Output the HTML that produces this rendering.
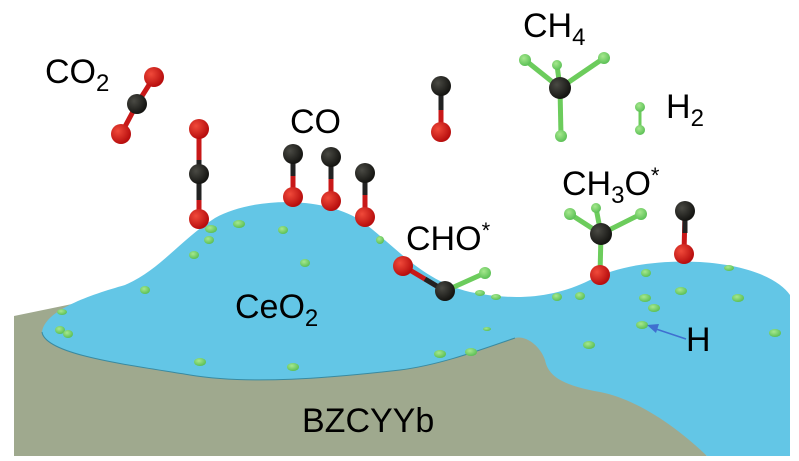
<!DOCTYPE html>
<html><head><meta charset="utf-8"><style>
html,body{margin:0;padding:0;background:#fff;width:799px;height:461px;overflow:hidden}
svg text{font-family:"Liberation Sans",sans-serif;fill:#000}
</style></head><body>
<svg width="799" height="461" viewBox="0 0 799 461" xmlns="http://www.w3.org/2000/svg">
<defs>
<radialGradient id="r" cx="35%" cy="35%" r="65%"><stop offset="0" stop-color="#f04a3a"/><stop offset="1" stop-color="#b80e0e"/></radialGradient>
<radialGradient id="k" cx="35%" cy="35%" r="65%"><stop offset="0" stop-color="#4a4a44"/><stop offset="1" stop-color="#151512"/></radialGradient>
<radialGradient id="g" cx="40%" cy="35%" r="65%"><stop offset="0" stop-color="#a6e88e"/><stop offset="1" stop-color="#5cc056"/></radialGradient>
</defs>
<!-- substrate -->
<path d="M14,316 L140,290 L520,300 L600,330 L660,400 L707,456 L14,456 Z" fill="#9fa98e"/>
<!-- ceria -->
<path d="M42,332 C45,310 90,295 125,285 C160,270 180,240 215,218 C250,198 320,195 360,220 C395,245 420,280 470,292 C510,300 550,300 590,280 C620,265 660,260 700,262 C750,265 780,280 790,295 L790,456 L707,456 C680,430 640,400 600,392 C560,385 548,375 545,360 C540,345 525,335 515,338 C480,350 440,365 400,370 C330,378 250,385 190,375 C130,365 45,355 42,332 Z" fill="#63c6e6"/>
<path d="M515,338 C480,350 440,365 400,370 C330,378 250,385 190,375 C130,365 45,355 42,332" fill="none" stroke="#3a8aa0" stroke-width="1"/>
<!-- green dots on surface -->
<g fill="url(#g)">
<ellipse cx="239" cy="224" rx="6" ry="4"/><ellipse cx="211" cy="229" rx="6" ry="4"/><ellipse cx="209" cy="240" rx="5" ry="4"/><ellipse cx="194" cy="255" rx="5" ry="4"/><ellipse cx="283" cy="230" rx="5" ry="4"/><ellipse cx="305" cy="263" rx="5" ry="4"/><ellipse cx="145" cy="290" rx="5" ry="4"/><ellipse cx="62" cy="312" rx="5" ry="3"/><ellipse cx="60" cy="330" rx="5" ry="4"/><ellipse cx="68" cy="334" rx="5" ry="4"/><ellipse cx="200" cy="362" rx="6" ry="4"/><ellipse cx="293" cy="367" rx="6" ry="4"/><ellipse cx="380" cy="240" rx="4" ry="4"/><ellipse cx="440" cy="293" rx="4" ry="3"/><ellipse cx="480" cy="293" rx="5" ry="3"/><ellipse cx="496" cy="297" rx="5" ry="3"/><ellipse cx="557" cy="297" rx="5" ry="4"/><ellipse cx="580" cy="296" rx="5" ry="4"/><ellipse cx="646" cy="273" rx="5" ry="4"/><ellipse cx="681" cy="291" rx="6" ry="4"/><ellipse cx="645" cy="298" rx="6" ry="4"/><ellipse cx="654" cy="308" rx="6" ry="4"/><ellipse cx="738" cy="298" rx="6" ry="4"/><ellipse cx="642" cy="325" rx="6" ry="4"/><ellipse cx="589" cy="345" rx="6" ry="4"/><ellipse cx="775" cy="333" rx="6" ry="4"/><ellipse cx="440" cy="354" rx="6" ry="4"/><ellipse cx="471" cy="352" rx="6" ry="4"/><ellipse cx="487" cy="329" rx="4" ry="2"/><ellipse cx="729" cy="268" rx="5" ry="3"/>
</g>
<!-- bonds -->
<g stroke-width="5">
<line x1="154" y1="77" x2="137" y2="104" stroke="#c81818"/><line x1="137" y1="104" x2="121" y2="134" stroke="#c81818"/>
<line x1="199" y1="129" x2="199" y2="219" stroke="#c81818"/><line x1="199" y1="160" x2="199" y2="200" stroke="#222"/>
<line x1="293" y1="154" x2="293" y2="197" stroke="#c81818"/><line x1="293" y1="154" x2="293" y2="176" stroke="#222"/>
<line x1="331" y1="157" x2="331" y2="201" stroke="#c81818"/><line x1="331" y1="157" x2="331" y2="179" stroke="#222"/>
<line x1="365" y1="173" x2="365" y2="217" stroke="#c81818"/><line x1="365" y1="173" x2="365" y2="195" stroke="#222"/>
<line x1="441" y1="86" x2="441" y2="132" stroke="#c81818"/><line x1="441" y1="86" x2="441" y2="110" stroke="#222"/>
<line x1="685" y1="211" x2="684" y2="254" stroke="#c81818"/><line x1="685" y1="211" x2="685" y2="233" stroke="#222"/>
<line x1="403" y1="266" x2="445" y2="291" stroke="#c81818"/><line x1="425" y1="279" x2="445" y2="291" stroke="#222"/><line x1="445" y1="291" x2="485" y2="273" stroke="#6ccc5c"/>
<line x1="601" y1="234" x2="600" y2="275" stroke="#6ccc5c"/><line x1="601" y1="234" x2="570" y2="214" stroke="#6ccc5c"/><line x1="601" y1="234" x2="641" y2="214" stroke="#6ccc5c"/><line x1="601" y1="234" x2="596" y2="208" stroke="#6ccc5c"/>
<line x1="560" y1="88" x2="525" y2="60" stroke="#6ccc5c"/><line x1="560" y1="88" x2="604" y2="58" stroke="#6ccc5c"/><line x1="560" y1="88" x2="557" y2="65" stroke="#6ccc5c"/><line x1="560" y1="88" x2="561" y2="136" stroke="#6ccc5c"/>
<line x1="640" y1="107" x2="640" y2="130" stroke="#6ccc5c" stroke-width="3"/>
</g>
<!-- atoms -->
<g fill="url(#r)">
<circle cx="154" cy="77" r="10"/><circle cx="121" cy="134" r="10"/><circle cx="199" cy="129" r="10"/><circle cx="199" cy="219" r="10"/>
<circle cx="293" cy="197" r="10"/><circle cx="331" cy="201" r="10"/><circle cx="365" cy="217" r="10"/><circle cx="441" cy="132" r="10"/>
<circle cx="684" cy="254" r="10"/><circle cx="403" cy="266" r="10"/><circle cx="600" cy="275" r="10"/>
</g>
<g fill="url(#k)">
<circle cx="137" cy="104" r="10"/><circle cx="199" cy="174" r="10"/><circle cx="293" cy="154" r="10"/><circle cx="331" cy="157" r="10"/><circle cx="365" cy="173" r="10"/><circle cx="441" cy="86" r="10"/><circle cx="685" cy="211" r="10"/><circle cx="445" cy="291" r="10"/><circle cx="601" cy="234" r="11"/><circle cx="560" cy="88" r="11"/>
</g>
<g fill="url(#g)">
<circle cx="485" cy="273" r="6"/><circle cx="570" cy="214" r="6"/><circle cx="641" cy="214" r="6"/><circle cx="596" cy="208" r="5"/>
<circle cx="525" cy="60" r="6"/><circle cx="604" cy="58" r="6"/><circle cx="557" cy="65" r="5"/><circle cx="561" cy="136" r="6"/>
<circle cx="640" cy="107" r="5"/><circle cx="640" cy="130" r="5"/>
</g>
<!-- arrow -->
<line x1="686" y1="339" x2="656" y2="329" stroke="#3f6fd0" stroke-width="1.5"/>
<polygon points="647,325 659,324 656,333" fill="#3f6fd0"/>
<!-- labels -->
<text x="45" y="83" font-size="34">CO<tspan font-size="24" dy="8">2</tspan></text>
<text x="290" y="133" font-size="34">CO</text>
<text x="523" y="37" font-size="34">CH<tspan font-size="24" dy="8">4</tspan></text>
<text x="666" y="118" font-size="34">H<tspan font-size="24" dy="8">2</tspan></text>
<text x="406" y="250" font-size="34">CHO<tspan font-size="22" dy="-12">*</tspan></text>
<text x="562" y="195" font-size="34">CH<tspan font-size="24" dy="8">3</tspan><tspan dy="-8">O</tspan><tspan font-size="22" dy="-12">*</tspan></text>
<text x="686" y="351" font-size="34">H</text>
<text x="235" y="318" font-size="34">CeO<tspan font-size="24" dy="8">2</tspan></text>
<text x="302" y="432" font-size="34">BZCYYb</text>
</svg>
</body></html>
